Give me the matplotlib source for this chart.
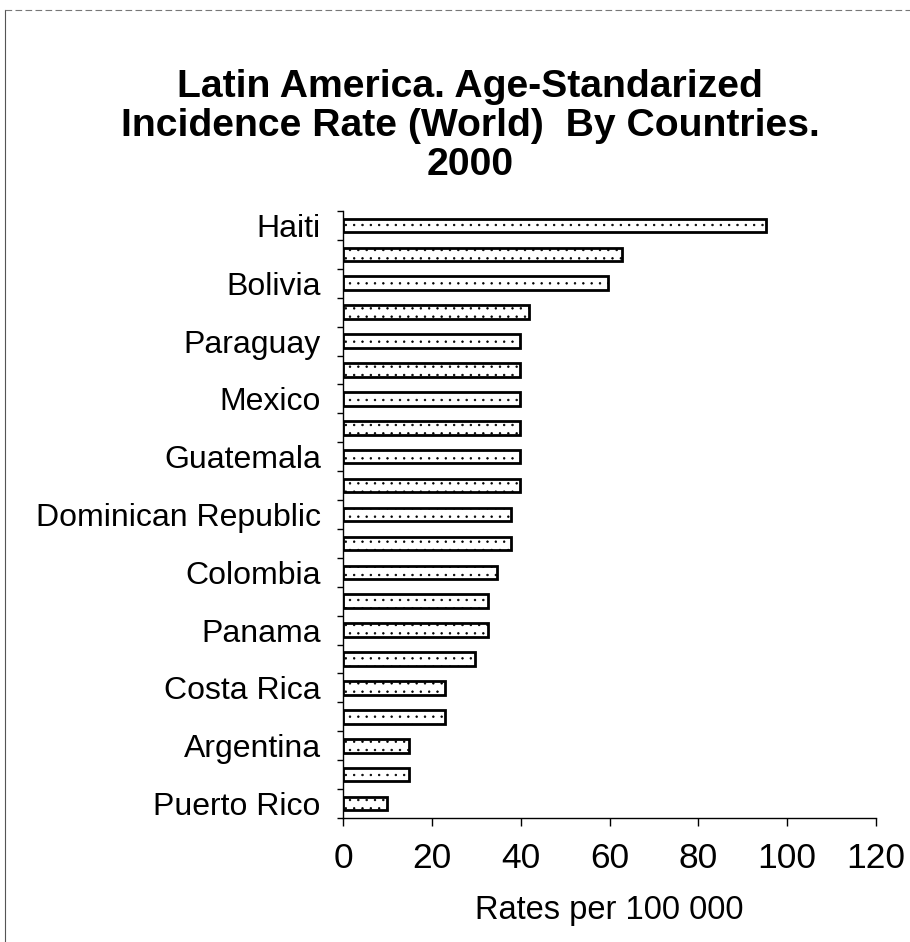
import matplotlib
matplotlib.use("Agg")
import matplotlib.pyplot as plt
from matplotlib.lines import Line2D
import numpy as np

plt.rcParams['font.family'] = ['Liberation Sans', 'DejaVu Sans']
plt.rcParams['hatch.color'] = '#b8b8b8'
plt.rcParams['hatch.linewidth'] = 0.5

# Countries, top to bottom (only every other one gets a label)
countries = ["Haiti", "", "Bolivia", "", "Paraguay", "", "Mexico", "",
             "Guatemala", "", "Dominican Republic", "", "Colombia", "",
             "Panama", "", "Costa Rica", "", "Argentina", "", "Puerto Rico"]
rates = [95.3, 62.8, 59.7, 41.9, 39.9, 39.9, 39.9, 39.9, 39.9, 39.9,
         37.8, 37.8, 34.6, 32.7, 32.7, 29.7, 23.0, 23.0, 14.9, 14.9, 9.8]
x_ticks = [0, 20, 40, 60, 80, 100, 120]

W, H = 910, 942
fig = plt.figure(figsize=(W / 100, H / 100), dpi=100)
fig.patch.set_facecolor('white')

ax = fig.add_axes([343 / W, 1 - 818 / H, (876 - 343) / W, (818 - 211) / H])
pos = np.arange(len(countries))
ax.barh(pos, rates, height=0.47, color='white', edgecolor='black',
        linewidth=2.0, hatch='..')

ax.set_ylim(len(countries) - 0.5, -0.5)
ax.set_xlim(0, 120)

ax.set_yticks(pos)
ax.set_yticklabels(countries, fontsize=23)
ax.set_yticks(np.arange(len(countries) + 1) - 0.5, minor=True)
ax.tick_params(axis='y', which='major', length=0, pad=16)
ax.tick_params(axis='y', which='minor', length=4.5, width=1.0, direction='out')

ax.set_xticks(x_ticks)
ax.set_xticklabels([str(v) for v in x_ticks], fontsize=25.5)
ax.tick_params(axis='x', length=6, width=1.0, direction='out', pad=11)
ax.set_xlabel("Rates per 100 000", fontsize=23.5, labelpad=15)

for side in ('top', 'right'):
    ax.spines[side].set_visible(False)
for side in ('left', 'bottom'):
    ax.spines[side].set_linewidth(1.0)

fig.text(470 / W, 1 - 126 / H,
         "Latin America. Age-Standarized\nIncidence Rate (World)  By Countries.\n2000",
         ha='center', va='center', fontsize=28.2, fontweight='bold',
         linespacing=1.1)

# chart-area frame (left and top edges)
fig.add_artist(Line2D([5 / W, 5 / W], [0, 1 - 10 / H], transform=fig.transFigure,
                      color='#555555', linewidth=0.8))
fig.add_artist(Line2D([5 / W, 1], [1 - 10 / H, 1 - 10 / H], transform=fig.transFigure,
                      color='#777777', linewidth=0.8, linestyle=(0, (6, 3))))

fig.savefig("out.png", dpi=100)
